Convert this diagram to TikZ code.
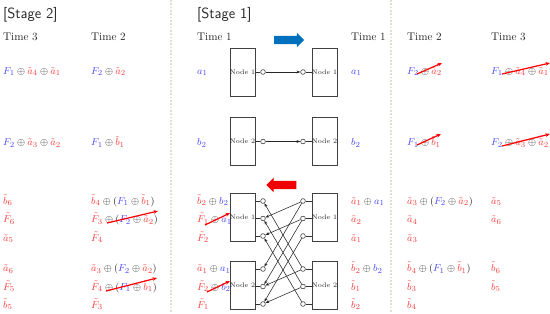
\documentclass[tikz,border=0pt]{standalone}
\usepackage{amsmath,amssymb}
\usepackage{tikz}
\usetikzlibrary{arrows.meta,positioning,calc,shapes.arrows}

\definecolor{symblue}{RGB}{70,70,250}
\definecolor{symred}{RGB}{250,60,60}
\definecolor{flowblue}{RGB}{0,112,190}
\definecolor{flowred}{RGB}{240,0,0}
\definecolor{sepline}{RGB}{226,223,206}

\tikzset{
  dg/stage/.style={anchor=west, inner sep=0pt, font=\sffamily\fontsize{13.3}{16}\selectfont},
  dg/time/.style={anchor=west, inner sep=0pt},
  dg/sym/.style={anchor=base west, inner sep=0pt, font=\fontsize{9.5}{11}\selectfont},
  dg/box/.style={draw=black!75, line width=0.5pt, minimum width=18.9pt, minimum height=43.2pt, inner sep=0pt, font=\fontsize{6}{7}\selectfont},
  dg/port/.style={draw=black!80, circle, fill=white, line width=0.5pt, inner sep=0pt, minimum size=4.3pt},
  dg/stub/.style={draw=black!80, line width=0.5pt},
  dg/link/.style={draw=black!85, line width=0.5pt, -{Stealth[length=3.5pt,width=2.6pt]}},
  dg/strike/.style={draw=red, line width=1.1pt, -{Stealth[length=4pt,width=3.2pt]}},
  dg/flow/.style={single arrow, draw=none, inner sep=3.6pt, single arrow head extend=2.8pt, minimum height=27pt, single arrow head indent=0pt},
  dg/sep/.style={draw=sepline, line width=1pt, dash pattern=on 1.5pt off 1.5pt}
}
\newcommand{\bsym}[1]{\textcolor{symblue}{#1}}
\newcommand{\rsym}[1]{\textcolor{symred}{#1}}

\begin{document}
\begin{tikzpicture}[x=0.9pt, y=-0.9pt, every node/.append style={text=black!85}]
  \useasboundingbox (0,0) rectangle (550,313);

  \draw[dg/sep] (171,0) -- (171,313);
  \draw[dg/sep] (391,0) -- (391,313);

  % headings
  \node[dg/stage] (stage2) at (3,14.5) {[Stage 2]};
  \node[dg/stage] (stage1) at (197,14.5) {[Stage 1]};

  \node[dg/time] (s2t3) at (3,37) {Time 3};
  \node[dg/time] (s2t2) at (91,37) {Time 2};
  \node[dg/time] (s1t1l) at (197,37) {Time 1};
  \node[dg/time] (s1t1r) at (351,37) {Time 1};
  \node[dg/time] (s1t2) at (407,37) {Time 2};
  \node[dg/time] (s1t3) at (491,37) {Time 3};

  % stage 2, time 3
  \node[dg/sym] (s2t3r1) at (3,74) {$\bsym{F_1}\oplus\rsym{\tilde a_4}\oplus\rsym{\tilde a_1}$};
  \node[dg/sym] (s2t3r2) at (3,145.7) {$\bsym{F_2}\oplus\rsym{\tilde a_3}\oplus\rsym{\tilde a_2}$};
  \node[dg/sym] (s2t3r3) at (3,204) {$\rsym{\tilde b_6}$};
  \node[dg/sym] (s2t3r4) at (3,222.5) {$\rsym{\tilde F_6}$};
  \node[dg/sym] (s2t3r5) at (3,241) {$\rsym{\tilde a_5}$};
  \node[dg/sym] (s2t3r6) at (3,271.5) {$\rsym{\tilde a_6}$};
  \node[dg/sym] (s2t3r7) at (3,290) {$\rsym{\tilde F_5}$};
  \node[dg/sym] (s2t3r8) at (3,308) {$\rsym{\tilde b_5}$};

  % stage 2, time 2
  \node[dg/sym] (s2t2r1) at (91,74) {$\bsym{F_2}\oplus\rsym{\tilde a_2}$};
  \node[dg/sym] (s2t2r2) at (91,145.7) {$\bsym{F_1}\oplus\rsym{\tilde b_1}$};
  \node[dg/sym] (s2t2r3) at (91,204) {$\rsym{\tilde b_4}\oplus(\bsym{F_1}\oplus\rsym{\tilde b_1})$};
  \node[dg/sym] (s2t2r4) at (91,222.5) {$\rsym{\tilde F_3}\oplus(\bsym{F_2}\oplus\rsym{\tilde a_2})$};
  \node[dg/sym] (s2t2r5) at (91,241) {$\rsym{\tilde F_4}$};
  \node[dg/sym] (s2t2r6) at (91,271.5) {$\rsym{\tilde a_3}\oplus(\bsym{F_2}\oplus\rsym{\tilde a_2})$};
  \node[dg/sym] (s2t2r7) at (91,290) {$\rsym{\tilde F_4}\oplus(\bsym{F_1}\oplus\rsym{\tilde b_1})$};
  \node[dg/sym] (s2t2r8) at (91,308) {$\rsym{\tilde F_3}$};

  % stage 1, time 1 (left side)
  \node[dg/sym] (s1t1r1) at (197,74) {$\bsym{a_1}$};
  \node[dg/sym] (s1t1r2) at (197,145.7) {$\bsym{b_2}$};
  \node[dg/sym] (s1t1r3) at (197,204) {$\rsym{\tilde b_2}\oplus\bsym{b_2}$};
  \node[dg/sym] (s1t1r4) at (197,222.5) {$\rsym{\tilde F_1}\oplus\bsym{a_1}$};
  \node[dg/sym] (s1t1r5) at (197,241) {$\rsym{\tilde F_2}$};
  \node[dg/sym] (s1t1r6) at (197,271.5) {$\rsym{\tilde a_1}\oplus\bsym{a_1}$};
  \node[dg/sym] (s1t1r7) at (197,290) {$\rsym{\tilde F_2}\oplus\bsym{b_2}$};
  \node[dg/sym] (s1t1r8) at (197,308) {$\rsym{\tilde F_1}$};

  % stage 1, time 1 (right side)
  \node[dg/sym] (s1t1q1) at (351,74) {$\bsym{a_1}$};
  \node[dg/sym] (s1t1q2) at (351,145.7) {$\bsym{b_2}$};
  \node[dg/sym] (s1t1q3) at (351,204) {$\rsym{\tilde a_1}\oplus\bsym{a_1}$};
  \node[dg/sym] (s1t1q4) at (351,222.5) {$\rsym{\tilde a_2}$};
  \node[dg/sym] (s1t1q5) at (351,241) {$\rsym{\tilde a_1}$};
  \node[dg/sym] (s1t1q6) at (351,271.5) {$\rsym{\tilde b_2}\oplus\bsym{b_2}$};
  \node[dg/sym] (s1t1q7) at (351,290) {$\rsym{\tilde b_1}$};
  \node[dg/sym] (s1t1q8) at (351,308) {$\rsym{\tilde b_2}$};

  % stage 1, time 2
  \node[dg/sym] (s1t2r1) at (407,74) {$\bsym{F_2}\oplus\rsym{\tilde a_2}$};
  \node[dg/sym] (s1t2r2) at (407,145.7) {$\bsym{F_1}\oplus\rsym{\tilde b_1}$};
  \node[dg/sym] (s1t2r3) at (407,204) {$\rsym{\tilde a_3}\oplus(\bsym{F_2}\oplus\rsym{\tilde a_2})$};
  \node[dg/sym] (s1t2r4) at (407,222.5) {$\rsym{\tilde a_4}$};
  \node[dg/sym] (s1t2r5) at (407,241) {$\rsym{\tilde a_3}$};
  \node[dg/sym] (s1t2r6) at (407,271.5) {$\rsym{\tilde b_4}\oplus(\bsym{F_1}\oplus\rsym{\tilde b_1})$};
  \node[dg/sym] (s1t2r7) at (407,290) {$\rsym{\tilde b_3}$};
  \node[dg/sym] (s1t2r8) at (407,308) {$\rsym{\tilde b_4}$};

  % stage 1, time 3
  \node[dg/sym] (s1t3r1) at (491,74) {$\bsym{F_1}\oplus\rsym{\tilde a_4}\oplus\rsym{\tilde a_1}$};
  \node[dg/sym] (s1t3r2) at (491,145.7) {$\bsym{F_2}\oplus\rsym{\tilde a_3}\oplus\rsym{\tilde a_2}$};
  \node[dg/sym] (s1t3r3) at (491,204) {$\rsym{\tilde a_5}$};
  \node[dg/sym] (s1t3r4) at (491,222.5) {$\rsym{\tilde a_6}$};
  \node[dg/sym] (s1t3r6) at (491,271.5) {$\rsym{\tilde b_6}$};
  \node[dg/sym] (s1t3r7) at (491,290) {$\rsym{\tilde b_5}$};

  % forward transfer
  \node[dg/flow, fill=flowblue] (fwd) at (287,40) {};
  \node[dg/box] (n1l) at (242.5,72) {Node 1};
  \node[dg/box] (n1r) at (324.5,72) {Node 1};
  \node[dg/box] (n2l) at (242.5,141.5) {Node 2};
  \node[dg/box] (n2r) at (324.5,141.5) {Node 2};
  \node[dg/port] (p1l) at (263,72) {};
  \node[dg/port] (p1r) at (303,72) {};
  \node[dg/port] (p2l) at (263,141.5) {};
  \node[dg/port] (p2r) at (303,141.5) {};
  \draw[dg/stub] (n1l) -- (p1l);
  \draw[dg/stub] (p1r) -- (n1r);
  \draw[dg/stub] (n2l) -- (p2l);
  \draw[dg/stub] (p2r) -- (n2r);
  \draw[dg/link] (p1l) -- (p1r);
  \draw[dg/link] (p2l) -- (p2r);

  % backward transfer
  \node[dg/flow, fill=flowred, shape border rotate=180] (bwd) at (283.5,185) {};
  \node[dg/box] (m1l) at (242.5,217.5) {Node 1};
  \node[dg/box] (m1r) at (324.5,217.5) {Node 1};
  \node[dg/box] (m2l) at (242.5,285.5) {Node 2};
  \node[dg/box] (m2r) at (324.5,285.5) {Node 2};
  \node[dg/port] (la1) at (263,201) {};
  \node[dg/port] (la2) at (263,218.5) {};
  \node[dg/port] (la3) at (263,236) {};
  \node[dg/port] (lb1) at (263,269) {};
  \node[dg/port] (lb2) at (263,286.5) {};
  \node[dg/port] (lb3) at (263,304) {};
  \node[dg/port] (ra1) at (303,201) {};
  \node[dg/port] (ra2) at (303,218.5) {};
  \node[dg/port] (ra3) at (303,236) {};
  \node[dg/port] (rb1) at (303,269) {};
  \node[dg/port] (rb2) at (303,286.5) {};
  \node[dg/port] (rb3) at (303,304) {};
  \draw[dg/stub] (m1l.east |- la1) -- (la1);
  \draw[dg/stub] (m1l.east |- la2) -- (la2);
  \draw[dg/stub] (m1l.east |- la3) -- (la3);
  \draw[dg/stub] (m2l.east |- lb1) -- (lb1);
  \draw[dg/stub] (m2l.east |- lb2) -- (lb2);
  \draw[dg/stub] (m2l.east |- lb3) -- (lb3);
  \draw[dg/stub] (ra1) -- (m1r.west |- ra1);
  \draw[dg/stub] (ra2) -- (m1r.west |- ra2);
  \draw[dg/stub] (ra3) -- (m1r.west |- ra3);
  \draw[dg/stub] (rb1) -- (m2r.west |- rb1);
  \draw[dg/stub] (rb2) -- (m2r.west |- rb2);
  \draw[dg/stub] (rb3) -- (m2r.west |- rb3);
  \draw[dg/link] (ra1) -- (la2);
  \draw[dg/link] (ra2) -- (la3);
  \draw[dg/link] (rb1) -- (lb2);
  \draw[dg/link] (rb2) -- (lb3);
  \draw[dg/link] (ra1) -- (lb1);
  \draw[dg/link] (ra2) -- (lb2);
  \draw[dg/link] (ra3) -- (lb3);
  \draw[dg/link] (rb1) -- (la1);
  \draw[dg/link] (rb2) -- (la2);
  \draw[dg/link] (rb3) -- (la3);

  % struck-out terms
  \draw[dg/strike] ($(s2t2r4.base west)+(16,0.5)$) -- ($(s2t2r4.base east)+(0,-11.5)$);
  \draw[dg/strike] ($(s2t2r7.base west)+(15,1)$) -- ($(s2t2r7.base east)+(0,-12)$);
  \draw[dg/strike] ($(s1t2r1.base west)+(10,0)$) -- ($(s1t2r1.base east)+(0,-11)$);
  \draw[dg/strike] ($(s1t2r2.base west)+(10,-0.7)$) -- ($(s1t2r2.base east)+(0,-11.7)$);
  \draw[dg/strike] ($(s1t3r1.base west)+(11,0)$) -- ($(s1t3r1.base east)+(1,-11)$);
  \draw[dg/strike] ($(s1t3r2.base west)+(11,0.3)$) -- ($(s1t3r2.base east)+(1,-11.7)$);
  \draw[dg/strike] ($(s1t1r4.base west)+(8,2.5)$) -- ($(s1t1r4.base east)+(-2,-9.5)$);
  \draw[dg/strike] ($(s1t1r7.base west)+(10,2)$) -- ($(s1t1r7.base east)+(-1,-9)$);
\end{tikzpicture}
\end{document}
